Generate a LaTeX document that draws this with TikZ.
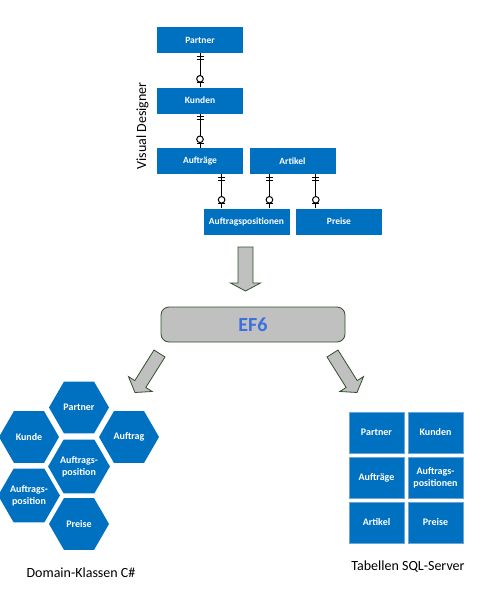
\documentclass[tikz,border=0pt]{standalone}
\usepackage{fontspec}
\setmainfont{Carlito}
\usetikzlibrary{calc,shapes.geometric}
\definecolor{msblue}{RGB}{0,112,192}
\definecolor{tblborder}{RGB}{110,165,215}
\definecolor{arrgray}{RGB}{192,192,192}
\definecolor{darkgrn}{RGB}{50,80,45}
\definecolor{eftext}{RGB}{60,112,222}
\newcommand\ERconn[2]{%
  \draw[erline] (#1) -- (#2);
  \draw[erline] ($(#1)+(-3.5,3)$) -- ++(7,0);
  \draw[erline] ($(#1)+(-3.5,6)$) -- ++(7,0);
  \draw[erline] ($(#2)+(-3.5,-4.5)$) -- ++(7,0);
  \draw[erline,fill=white] ($(#2)+(0,-8.5)$) circle (3.3);}
\newcommand\BlockArrow[5]{% tail, tip, shaft half, head half, head length
  \coordinate (ba-h) at ($(#2)!#5pt!(#1)$);
  \draw[blockarrow]
    ($(#1)!#3pt!90:(#2)$) -- ($(ba-h)!#3pt!-90:(#1)$) -- ($(ba-h)!#4pt!-90:(#1)$)
    -- (#2) -- ($(ba-h)!#4pt!90:(#1)$) -- ($(ba-h)!#3pt!90:(#1)$)
    -- ($(#1)!#3pt!-90:(#2)$) -- cycle;}
\begin{document}
\begin{tikzpicture}[x=1pt,y=-1pt,
  erbox/.style={fill=msblue,text=white,font=\fontsize{9.5}{11}\selectfont\bfseries,
    minimum width=86,minimum height=26,inner sep=0},
  tblbox/.style={fill=msblue,draw=tblborder,line width=0.6,text=white,
    font=\fontsize{10}{12}\selectfont\bfseries,align=center,
    minimum width=55,minimum height=41,inner sep=0},
  hexbox/.style={regular polygon,regular polygon sides=6,fill=msblue,text=white,
    font=\fontsize{10}{12}\selectfont\bfseries,align=center,
    minimum size=60,inner sep=0},
  erline/.style={black,line width=1},
  blockarrow/.style={fill=arrgray,draw=darkgrn,line width=0.8,line join=miter},
  caption/.style={font=\fontsize{14}{16}\selectfont,text=black}]
\useasboundingbox (0,0) rectangle (489,605);

% Visual designer
\node[erbox] (partner) at (200,40) {Partner};
\node[erbox] (kunden) at (200,100.5) {Kunden};
\node[erbox] (auftr) at (200,161) {Aufträge};
\node[erbox] (artikel) at (292.5,161) {Artikel};
\node[erbox] (apos) at (246.5,221.5) {Auftragspositionen};
\node[erbox] (preise) at (339,221.5) {Preise};
\node[caption,rotate=90] (vd) at (142.5,126) {Visual Designer};

\ERconn{partner.south}{kunden.north}
\ERconn{kunden.south}{auftr.north}
\coordinate (c1) at ($(auftr.south west)!0.75!(auftr.south east)$);
\coordinate (c2) at ($(artikel.south west)!0.233!(artikel.south east)$);
\coordinate (c3) at ($(artikel.south west)!0.77!(artikel.south east)$);
\ERconn{c1}{c1 |- apos.north}
\ERconn{c2}{c2 |- apos.north}
\ERconn{c3}{c3 |- preise.north}

% EF6
\coordinate (a0t) at (245.5,247);
\coordinate (a0p) at (245.5,291);
\BlockArrow{a0t}{a0p}{7.5}{15}{8}
\node[fill=arrgray,draw=darkgrn,line width=0.8,rounded corners=8,
  minimum width=184,minimum height=35,inner sep=0,
  font=\fontsize{20}{22}\selectfont\bfseries,text=eftext] (ef6) at (253,324.5) {EF6};
\coordinate (a1t) at (159.5,353.5);
\coordinate (a1p) at (135,392.5);
\BlockArrow{a1t}{a1p}{6.5}{14}{10}
\coordinate (a2t) at (332.5,353.5);
\coordinate (a2p) at (357,392.5);
\BlockArrow{a2t}{a2p}{6.5}{14}{10}

% Domain classes
\node[hexbox] (hpartner) at (79,407.5) {Partner};
\node[hexbox] (hkunde) at (29,437) {Kunde};
\node[hexbox] (hauftrag) at (129,437) {Auftrag};
\node[hexbox] (hpos1) at (79,466.5) {Auftrags-\\position};
\node[hexbox] (hpos2) at (29,495.5) {Auftrags-\\position};
\node[hexbox] (hpreise) at (79,524) {Preise};
\node[caption] (dk) at (81,573) {Domain-Klassen C\#};

% SQL tables
\node[tblbox] (tpartner) at (376.5,432.5) {Partner};
\node[tblbox] (tkunden) at (435.5,432.5) {Kunden};
\node[tblbox] (tauftr) at (376.5,477.5) {Aufträge};
\node[tblbox] (tpos) at (435.5,477.5) {Auftrags-\\positionen};
\node[tblbox] (tartikel) at (376.5,522.5) {Artikel};
\node[tblbox] (tpreise) at (435.5,522.5) {Preise};
\node[caption] (ts) at (408,567) {Tabellen SQL-Server};
\end{tikzpicture}
\end{document}
